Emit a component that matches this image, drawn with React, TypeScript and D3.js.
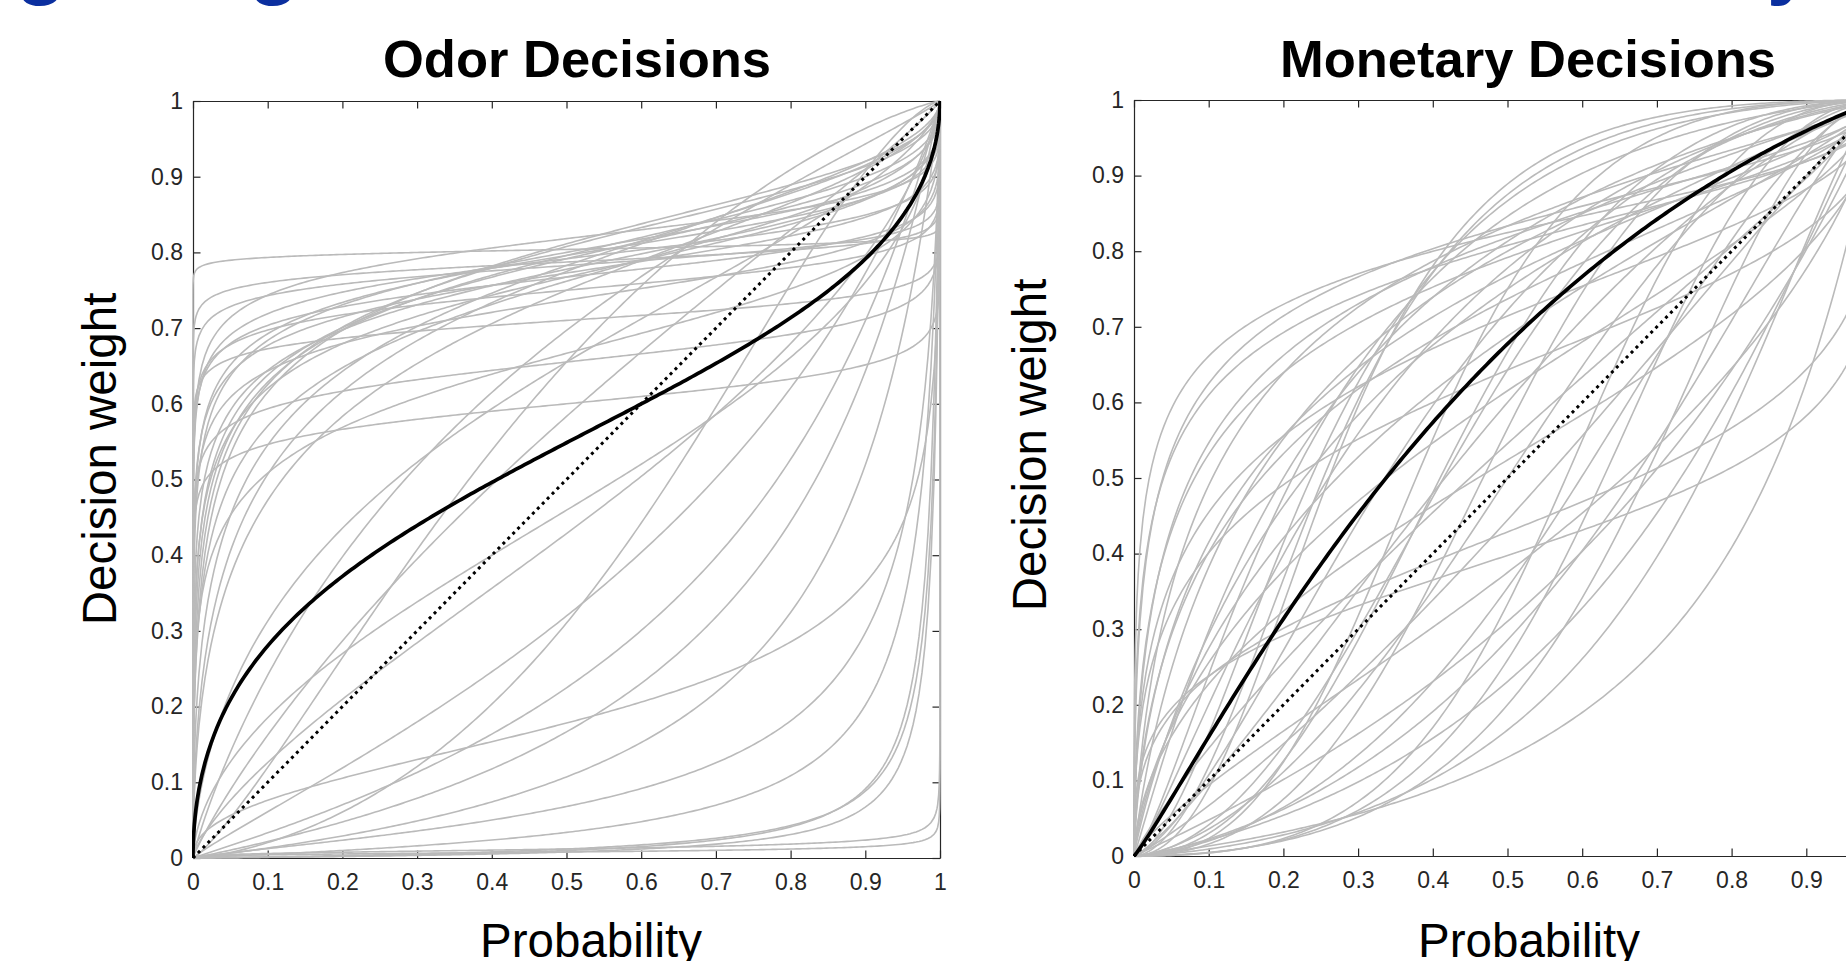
import { useEffect, useRef } from 'react';
import * as d3 from 'd3';

// probability-weighting fits, w(p) = d*p^g / (d*p^g + (1-p)^g), one entry per subject
const ticks = [0, 0.1, 0.2, 0.3, 0.4, 0.5, 0.6, 0.7, 0.8, 0.9, 1];
const tickLabels = ['0', '0.1', '0.2', '0.3', '0.4', '0.5', '0.6', '0.7', '0.8', '0.9', '1'];

const odorDelta = [
  4.1, 3.7, 3.6, 3.3, 3.8, 3.4, 3.9, 3.5, 3.8, 3.2, 4.2, 3.6, 3.0, 4.0, 3.3, 2.45, 1.5, 2.8, 4.5, 3.0, 4.3, 3.9, 2.0, 1.9,
  0.85, 0.75, 1.4, 3.44, 2.3, 1.9, 1.9, 0.47,
  0.29, 0.45, 0.217, 0.073, 0.035, 0.12, 0.2,
  0.008, 0.012, 0.008, 0.01, 0.012,
];
const odorGamma = [
  0.03, 0.07, 0.1, 0.15, 0.18, 0.22, 0.25, 0.3, 0.35, 0.4, 0.42, 0.5, 0.55, 0.28, 0.32, 0.08, 0.1, 0.2, 0.2, 0.12, 0.45, 0.38, 0.3, 0.12,
  0.6, 0.75, 0.9, 0.55, 0.9, 0.65, 1.2, 0.9,
  0.97, 1.4, 0.44, 0.8, 0.9, 1.0, 1.0,
  0.29, 0.32, 1.0, 1.05, 0.95,
];
const odorMean = [1.215, 0.518];

const moneyDelta = [
  4.7, 4.2, 5.0, 3.8, 4.5, 4.35, 5.5, 3.5, 6.5, 4.0, 3.0, 5.0, 3.3, 2.6, 2.2, 1.8, 1.5, 1.2, 1.0, 0.8,
  0.66, 0.75, 0.25, 0.2, 0.15, 0.3, 0.35, 0.45, 0.55, 0.6, 0.4, 0.5, 1.3, 2.0, 3.0, 1.6, 1.1, 2.5, 2.8, 1.8, 8.0, 7.0,
];
const moneyGamma = [
  0.4, 0.45, 0.5, 0.55, 0.6, 1.06, 1.3, 1.2, 1.6, 0.85, 0.9, 0.75, 0.7, 1.4, 0.8, 1.7, 1.2, 0.9, 1.5, 1.1,
  0.34, 0.4, 1.8, 1.4, 1.1, 1.2, 2.0, 1.0, 1.5, 0.8, 1.3, 2.2, 2.0, 1.9, 2.2, 0.7, 0.6, 0.5, 0.65, 0.45, 2.0, 1.8,
];
const moneyMean = [2.1, 1.1];

const FONT = '"Liberation Sans", Arial, Helvetica, sans-serif';
const AXIS = '#262626';
const GRAY = '#bababa';

// evaluation grid, dense near 0 and 1 where the fits are steep
const pGrid: number[] = [0, 1];
for (let e = -7; e < -2; e += 0.25) { pGrid.push(10 ** e); pGrid.push(1 - 10 ** e); }
for (let i = 1; i < 250; i++) pGrid.push(i / 250);
pGrid.sort((a, b) => a - b);

const llo = (p: number, d: number, g: number) =>
  p <= 0 ? 0 : p >= 1 ? 1 : (d * p ** g) / (d * p ** g + (1 - p) ** g);

function drawPanel(svg: any, o: any) {
  const x = d3.scaleLinear().domain([0, 1]).range([o.x0, o.x1]);
  const y = d3.scaleLinear().domain([0, 1]).range([o.y1, o.y0]);
  const g = svg.append('g');

  const fmt = (_: any, i: number) => tickLabels[i];
  const style = (a: any) => {
    a.attr('font-size', 23).attr('font-family', FONT);
    a.selectAll('path, line').attr('stroke', AXIS).attr('stroke-width', 1.2);
    a.selectAll('text').attr('fill', AXIS);
  };
  g.append('g').attr('transform', `translate(0,${o.y1})`)
    .call(d3.axisBottom(x).tickValues(ticks).tickFormat(fmt).tickSizeInner(-7.5).tickSizeOuter(0).tickPadding(16))
    .call(style);
  g.append('g').attr('transform', `translate(${o.x0},0)`)
    .call(d3.axisLeft(y).tickValues(ticks).tickFormat(fmt).tickSizeInner(-7.5).tickSizeOuter(0).tickPadding(10))
    .call(style);
  g.append('g').attr('transform', `translate(0,${o.y0})`)
    .call(d3.axisTop(x).tickValues(ticks).tickFormat(() => '').tickSizeInner(-7.5).tickSizeOuter(0))
    .call(style);
  g.append('g').attr('transform', `translate(${o.x1},0)`)
    .call(d3.axisRight(y).tickValues(ticks).tickFormat(() => '').tickSizeInner(-7.5).tickSizeOuter(0))
    .call(style);

  svg.append('clipPath').attr('id', o.id)
    .append('rect').attr('x', o.x0 - 1).attr('y', o.y0 - 1)
    .attr('width', o.x1 - o.x0 + 2).attr('height', o.y1 - o.y0 + 2);

  const line = d3.line<number[]>().x(d => x(d[0])).y(d => y(d[1]));
  const curves = g.append('g').attr('clip-path', `url(#${o.id})`).attr('fill', 'none');

  o.deltas.forEach((d: number, i: number) => {
    curves.append('path')
      .attr('d', line(pGrid.map(p => [p, llo(p, d, o.gammas[i])])))
      .attr('stroke', GRAY).attr('stroke-width', 1.6);
  });

  curves.append('path')
    .attr('d', line([[0, 0], [1, 1]]))
    .attr('stroke', '#000').attr('stroke-width', 3).attr('stroke-dasharray', '3 4');

  curves.append('path')
    .attr('d', line(pGrid.map(p => [p, llo(p, o.mean[0], o.mean[1])])))
    .attr('stroke', '#000').attr('stroke-width', 3.7);

  svg.append('text').attr('x', o.titleX).attr('y', 77)
    .attr('text-anchor', 'middle').attr('font-family', FONT).attr('font-weight', 'bold')
    .attr('font-size', 52.5).attr('fill', '#000').text(o.title);

  svg.append('text').attr('transform', `translate(${o.ylabX},${o.ylabY}) rotate(-90)`)
    .attr('text-anchor', 'middle').attr('font-family', FONT)
    .attr('font-size', 47.5).attr('fill', '#000').text('Decision weight');

  svg.append('text').attr('x', o.xlabX).attr('y', 957)
    .attr('text-anchor', 'middle').attr('font-family', FONT)
    .attr('font-size', 47.5).attr('fill', '#000').text('Probability');
}

export default function App() {
  const ref = useRef<SVGSVGElement>(null);

  useEffect(() => {
    if (!ref.current) return;
    const svg = d3.select(ref.current);
    svg.selectAll('*').remove();

    // slide heading above, cut off by the frame; only the descenders show
    [['g', 41], ['g', 274], ['y', 1790]].forEach(([ch, cx]) => {
      svg.append('text').attr('x', cx).attr('y', -11)
        .attr('text-anchor', 'middle').attr('font-family', FONT).attr('font-weight', 'bold')
        .attr('font-size', 84).attr('fill', '#0b2f9f').text(ch as string);
    });

    drawPanel(svg, {
      id: 'clip-odor', x0: 193, x1: 940, y0: 101, y1: 858,
      deltas: odorDelta, gammas: odorGamma, mean: odorMean,
      title: 'Odor Decisions', titleX: 577, ylabX: 116, ylabY: 459, xlabX: 591,
    });
    drawPanel(svg, {
      id: 'clip-money', x0: 1134, x1: 1881, y0: 100, y1: 856,
      deltas: moneyDelta, gammas: moneyGamma, mean: moneyMean,
      title: 'Monetary Decisions', titleX: 1528, ylabX: 1046, ylabY: 445, xlabX: 1529,
    });
  }, []);

  return (
    <svg
      ref={ref}
      width={1846}
      height={961}
      style={{ position: 'absolute', left: 0, top: 0, display: 'block', background: '#fff' }}
    />
  );
}
